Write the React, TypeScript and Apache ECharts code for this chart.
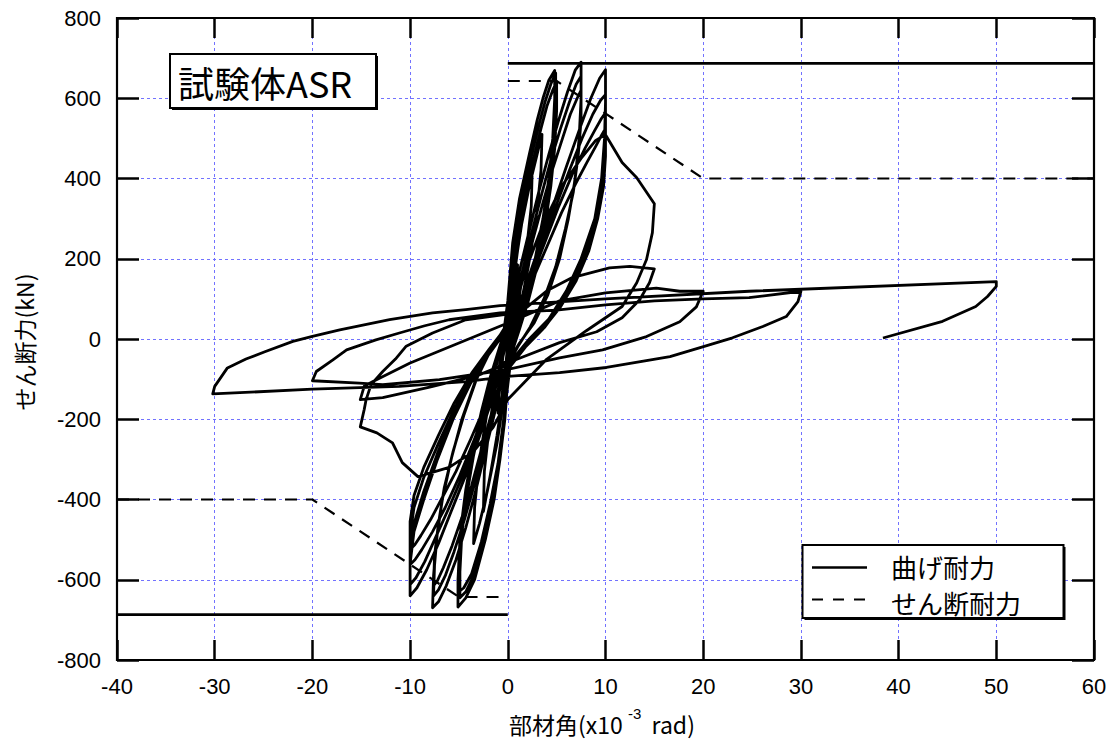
import React, { useEffect, useRef } from "react";
import * as echarts from "echarts";

// Axis ranges / ticks
const xRange = [-40, 60];
const xStep = 10;
const yRange = [-800, 800];
const yStep = 200;

// Capacity lines (kN)
const flexuralPos = [[0, 687], [60, 687]];
const flexuralNeg = [[-40, -687], [0, -687]];
const shearPos = [[0, 643], [5, 643], [20, 400], [60, 400]];
const shearNeg = [[-40, -400], [-20, -400], [-5, -643], [0, -643]];

// Hysteresis (drift angle x10^-3 rad, shear force kN)
const loopsSmall = [
  [0, 0], [0.3, 80], [0.7, 150], [1.0, 185], [0.9, 120], [0.5, 50], [0, -10],
  [-0.3, -90], [-0.7, -155], [-1.0, -185], [-0.9, -120], [-0.5, -45], [0, 10],
  [0.4, 110], [1.0, 220], [1.7, 330], [2.5, 420], [2.4, 330], [1.9, 220], [1.2, 110], [0.5, 20], [0, -50],
  [-0.5, -140], [-1.1, -240], [-1.8, -340], [-2.5, -430], [-2.4, -330], [-1.9, -220], [-1.2, -110], [-0.5, -20],
  [0.4, 120], [1.2, 260], [2.2, 380], [3.0, 460], [3.5, 510], [3.4, 420], [2.9, 300], [2.1, 180], [1.2, 70], [0.3, -30],
  [-0.3, -130], [-1.1, -260], [-2.1, -380], [-2.9, -460], [-3.5, -510], [-3.4, -420], [-2.9, -300], [-2.1, -180], [-1.2, -70], [-0.4, 20],
];

const loops5 = [
  [0, 95], [0.5, 240], [1.2, 350], [2.2, 460], [3.0, 545], [3.6, 600], [4.2, 645], [4.8, 669],
  [4.8, 600], [4.6, 500], [4.2, 400], [3.6, 300], [2.8, 200], [1.9, 110], [1.0, 40], [0.2, -20],
  [0, -100], [-0.3, -200], [-0.8, -300], [-1.4, -400], [-2.3, -500], [-3.4, -600], [-4.3, -645], [-5.1, -668],
  [-5.1, -600], [-4.9, -500], [-4.4, -400], [-3.7, -300], [-2.8, -200], [-1.8, -110], [-0.9, -40], [-0.2, 20],
  [0.1, 90], [0.7, 230], [1.4, 340], [2.4, 455], [3.2, 535], [3.8, 590], [4.4, 635], [4.9, 663],
  [4.9, 590], [4.7, 490], [4.3, 390], [3.7, 290], [2.9, 190], [2.0, 100], [1.1, 30], [0.3, -30],
  [0, -110], [-0.4, -210], [-0.9, -310], [-1.6, -410], [-2.5, -505], [-3.5, -590], [-4.3, -630], [-4.9, -645],
  [-4.9, -580], [-4.7, -485], [-4.2, -390], [-3.5, -290], [-2.6, -190], [-1.7, -100], [-0.8, -30], [-0.1, 25],
  [0.2, 85], [0.8, 220], [1.6, 330], [2.6, 445], [3.4, 525], [4.0, 580], [4.6, 620], [5.0, 640],
  [5.0, 570], [4.8, 475], [4.4, 380], [3.8, 280], [3.0, 180], [2.1, 95], [1.2, 25], [0.4, -35],
  [0, -115], [-0.5, -215], [-1.0, -310], [-1.8, -410], [-2.7, -505], [-3.7, -585], [-4.5, -620], [-5.0, -630],
  [-5.0, -565], [-4.8, -470], [-4.3, -375], [-3.6, -280], [-2.7, -180], [-1.8, -95], [-0.9, -25], [-0.2, 30],
];

const loops75 = [
  [0.3, 70], [1.2, 170], [2.2, 270], [3.2, 370], [4.2, 460], [5.2, 545], [6.1, 615], [6.9, 670], [7.5, 690],
  [7.5, 600], [7.3, 500], [6.9, 400], [6.2, 300], [5.3, 200], [4.1, 110], [2.7, 40], [1.2, -10], [0.2, -50],
  [-0.4, -80], [-1.3, -180], [-2.3, -280], [-3.3, -380], [-4.3, -470], [-5.3, -550], [-6.3, -615], [-7.1, -655], [-7.7, -670],
  [-7.6, -590], [-7.3, -500], [-6.7, -400], [-5.8, -300], [-4.7, -200], [-3.4, -110], [-2.0, -40], [-0.6, 15],
  [0.4, 60], [1.4, 160], [2.4, 260], [3.4, 355], [4.4, 445], [5.4, 525], [6.3, 590], [7.0, 635], [7.5, 655],
  [7.5, 575], [7.3, 480], [6.8, 385], [6.1, 290], [5.1, 190], [3.9, 105], [2.5, 35], [1.1, -15], [0.1, -60],
  [-0.5, -85], [-1.5, -180], [-2.5, -275], [-3.5, -370], [-4.5, -455], [-5.5, -530], [-6.4, -590], [-7.1, -625], [-7.6, -640],
  [-7.5, -565], [-7.2, -480], [-6.6, -385], [-5.7, -290], [-4.6, -195], [-3.3, -105], [-1.9, -35], [-0.5, 20],
  [0.5, 55], [1.6, 155], [2.6, 250], [3.6, 340], [4.6, 425], [5.6, 500], [6.4, 560], [7.1, 600], [7.5, 620],
  [7.5, 545], [7.2, 455], [6.7, 365], [5.9, 275], [4.9, 180], [3.7, 100], [2.3, 30], [1.0, -20], [0, -65],
  [-0.6, -90], [-1.6, -180], [-2.7, -275], [-3.7, -365], [-4.7, -445], [-5.7, -515], [-6.6, -570], [-7.2, -602], [-7.6, -615],
  [-7.5, -540], [-7.1, -460], [-6.5, -370], [-5.6, -280], [-4.5, -190], [-3.2, -100], [-1.8, -30], [-0.4, 25],
];

const loops10 = [
  [0.5, 40], [1.8, 130], [3.2, 230], [4.6, 330], [6.0, 430], [7.3, 520], [8.5, 600], [9.4, 650], [10, 671],
  [10, 590], [9.9, 500], [9.6, 400], [8.9, 300], [7.5, 200], [6.0, 120], [4.2, 50], [2.2, 0], [0.5, -50],
  [-0.5, -60], [-1.6, -150], [-3.0, -250], [-4.4, -345], [-5.8, -430], [-7.1, -510], [-8.3, -575], [-9.3, -620], [-10, -640],
  [-10, -560], [-9.6, -480], [-8.6, -400], [-7.2, -300], [-5.6, -200], [-3.8, -110], [-2.0, -40], [-0.5, 10],
  [0.6, 45], [2.0, 135], [3.4, 230], [4.9, 330], [6.3, 420], [7.6, 500], [8.7, 560], [9.5, 595], [10, 609],
  [10, 530], [9.8, 445], [9.4, 355], [8.6, 265], [7.3, 180], [5.8, 105], [4.0, 40], [2.1, -10], [0.4, -60],
  [-0.6, -65], [-1.8, -155], [-3.2, -250], [-4.7, -345], [-6.1, -425], [-7.4, -495], [-8.5, -555], [-9.4, -595], [-10, -612],
  [-10, -535], [-9.6, -460], [-8.6, -380], [-7.2, -285], [-5.6, -190], [-3.8, -105], [-2.0, -35], [-0.4, 15],
  [0.7, 50], [2.2, 140], [3.7, 235], [5.2, 330], [6.6, 410], [7.9, 475], [8.9, 520], [9.6, 550], [10, 564],
  [10, 490], [9.8, 410], [9.3, 325], [8.4, 240], [7.1, 160], [5.6, 90], [3.8, 30], [1.9, -15], [0.3, -65],
  [-0.7, -70], [-2.0, -160], [-3.5, -255], [-5.0, -345], [-6.4, -420], [-7.7, -480], [-8.8, -525], [-9.5, -550], [-10, -562],
  [-10, -490], [-9.6, -420], [-8.6, -345], [-7.1, -260], [-5.5, -175], [-3.7, -95], [-1.9, -30], [-0.3, 20],
  [0.8, 55], [2.4, 140], [4.0, 230], [5.5, 315], [6.9, 385], [8.1, 440], [9.0, 480], [9.6, 508], [10, 525],
  [10, 455], [9.8, 380], [9.2, 300], [8.3, 220], [7.0, 145], [5.4, 80], [3.6, 25], [1.8, -20], [0.2, -70],
  [-0.8, -70], [-2.2, -160], [-3.8, -250], [-5.3, -330], [-6.7, -395], [-7.9, -450], [-8.9, -490], [-9.5, -512], [-10, -525],
  [-10, -455], [-9.6, -390], [-8.6, -320], [-7.1, -240], [-5.5, -160], [-3.7, -85], [-1.9, -25], [-0.3, 25],
];

const loops15 = [
  [0.5, 60], [1.8, 170], [3.5, 280], [5.5, 380], [7.5, 450], [9.0, 495], [10, 509], [11.7, 440], [13.2, 402], [15, 337],
  [14.8, 265], [14.2, 198], [13.2, 140], [11.7, 81], [8, 20], [4, -50], [0, -151],
  [-1.5, -220], [-3.5, -280], [-6, -320], [-9.2, -343], [-10.8, -308], [-11.8, -259], [-13.4, -234], [-15.1, -219],
  [-14.7, -176], [-14.5, -151], [-14, -114], [-12.8, -81], [-11.5, -50], [-10.4, -18], [-7.7, 15], [-4.3, 48], [0, 62],
  [2, 80], [4, 120], [6.6, 153], [10.4, 177], [12.5, 181], [15, 175],
  [14.5, 140], [13.5, 98], [11.7, 53], [9.1, 18], [5.3, -9], [1, -50],
  [-3, -90], [-8, -120], [-12.8, -146], [-15.1, -151],
  [-14.7, -118], [-13.8, -106], [-10, -60], [-5, -10], [0, 40],
];

const loops20 = [
  [5.3, 95], [10, 115], [15.2, 127], [17.6, 119], [20, 119],
  [19.3, 80], [17.6, 43], [14.2, 6], [9.7, -27], [5.3, -47], [0, -76], [-7, -101],
  [-12.8, -114], [-15.2, -110], [-20, -104],
  [-19.6, -81], [-17.9, -52], [-16.5, -27], [-13.5, -2], [-11.1, 15], [-8.5, 33], [-6, 48], [-0.8, 65],
];

const loops30 = [
  [5, 72], [10, 85], [15, 95], [20, 100], [24.7, 103], [30, 119],
  [29.7, 93], [28.5, 56], [26.1, 31], [23, 3], [19.6, -22], [16.6, -44], [10.1, -71], [5.3, -84],
  [0, -93], [-4.3, -106], [-11.1, -118], [-20, -125], [-30.2, -137],
  [-30, -118], [-28.7, -72], [-26.8, -50], [-24.8, -31], [-22, -6], [-20, 6.5], [-17.2, 23],
  [-12.1, 48], [-7.7, 65], [-4.3, 73], [-0.8, 83],
];

const loops50 = [
  [10, 100], [24.7, 119], [50, 143],
  [50, 131], [49.1, 106], [47.9, 81], [44.5, 44], [38.4, 2.5],
];

const hysteresis = [
  ...loopsSmall, ...loops5, ...loops75, ...loops10, ...loops15, ...loops20, ...loops30, ...loops50,
];

const legendNames = ["曲げ耐力", "せん断耐力"];
const titleText = "試験体ASR";
const yName = "せん断力(kN)";

const FONT_NUM = '"Liberation Sans", Arial, sans-serif';
const FONT_JP = '"Noto Sans CJK JP", "Liberation Sans", sans-serif';
const GRID_COLOR = "#7272ff";

export default function App() {
  const ref = useRef<HTMLDivElement>(null);

  useEffect(() => {
    if (!ref.current) return;
    const chart = echarts.init(ref.current, null, { renderer: "svg" });
    const tickStyle = { color: "#000", width: 2.5 };
    const splitStyle = { color: GRID_COLOR, type: [3, 3], width: 1 };
    const option: any = {
      animation: false,
      backgroundColor: "#fff",
      grid: { left: 117, top: 18, width: 977, height: 642, show: false },
      xAxis: [
        {
          type: "value", min: xRange[0], max: xRange[1], interval: xStep, position: "bottom",
          axisLine: { show: false, onZero: false },
          axisTick: { show: true, inside: true, length: 20, lineStyle: tickStyle },
          axisLabel: { margin: 15, color: "#000", fontSize: 22, fontFamily: FONT_NUM },
          splitLine: { show: true, lineStyle: splitStyle },
        },
        {
          type: "value", min: xRange[0], max: xRange[1], interval: xStep, position: "top",
          axisLine: { show: false, onZero: false },
          axisTick: { show: true, inside: true, length: 20, lineStyle: tickStyle },
          axisLabel: { show: false },
          splitLine: { show: false },
        },
      ],
      yAxis: [
        {
          type: "value", min: yRange[0], max: yRange[1], interval: yStep, position: "left",
          axisLine: { show: false, onZero: false },
          axisTick: { show: true, inside: true, length: 22, lineStyle: tickStyle },
          axisLabel: { margin: 16, color: "#000", fontSize: 22, fontFamily: FONT_NUM },
          splitLine: { show: true, lineStyle: splitStyle },
        },
        {
          type: "value", min: yRange[0], max: yRange[1], interval: yStep, position: "right",
          axisLine: { show: false, onZero: false },
          axisTick: { show: true, inside: true, length: 22, lineStyle: tickStyle },
          axisLabel: { show: false },
          splitLine: { show: false },
        },
      ],
      series: [
        {
          type: "line", name: legendNames[1], data: shearPos, showSymbol: false,
          lineStyle: { color: "#000", width: 2.2, type: [12, 9] }, z: 3,
        },
        {
          type: "line", name: legendNames[1], data: shearNeg, showSymbol: false,
          lineStyle: { color: "#000", width: 2.2, type: [12, 9] }, z: 3,
        },
        {
          type: "line", name: legendNames[0], data: flexuralPos, showSymbol: false,
          lineStyle: { color: "#000", width: 2.6 }, z: 3,
        },
        {
          type: "line", name: legendNames[0], data: flexuralNeg, showSymbol: false,
          lineStyle: { color: "#000", width: 2.6 }, z: 3,
        },
        {
          type: "line", name: "hysteresis", data: hysteresis, showSymbol: false,
          lineStyle: { color: "#000", width: 2.8, join: "round" }, z: 4,
        },
      ],
      graphic: [
        {
          type: "rect", z: 100, silent: true,
          shape: { x: 117, y: 18, width: 977, height: 642 },
          style: { fill: "none", stroke: "#000", lineWidth: 2.2 },
        },
        // title box
        {
          type: "rect", z: 100, shape: { x: 172, y: 56, width: 206, height: 54 },
          style: { fill: "#000" },
        },
        {
          type: "rect", z: 101, shape: { x: 170, y: 54, width: 206, height: 54 },
          style: { fill: "#fff", stroke: "#000", lineWidth: 2 },
        },
        {
          type: "text", z: 102, x: 178, y: 82,
          style: { text: titleText, font: `36px ${FONT_JP}`, fill: "#000", verticalAlign: "middle", align: "left", lineHeight: 40 },
        },
        // legend box
        {
          type: "rect", z: 100, shape: { x: 804.5, y: 547, width: 261, height: 73 },
          style: { fill: "#000" },
        },
        {
          type: "rect", z: 101, shape: { x: 802.5, y: 545, width: 261, height: 73 },
          style: { fill: "#fff", stroke: "#000", lineWidth: 2 },
        },
        {
          type: "line", z: 102, shape: { x1: 812, y1: 567.5, x2: 867, y2: 567.5 },
          style: { stroke: "#000", lineWidth: 2.6 },
        },
        {
          type: "line", z: 102, shape: { x1: 812, y1: 599.5, x2: 867, y2: 599.5 },
          style: { stroke: "#000", lineWidth: 2.2, lineDash: [11, 10] },
        },
        {
          type: "text", z: 102, x: 891, y: 566,
          style: { text: legendNames[0], font: `26px ${FONT_JP}`, fill: "#000", verticalAlign: "middle", align: "left", lineHeight: 28 },
        },
        {
          type: "text", z: 102, x: 891, y: 602,
          style: { text: legendNames[1], font: `26px ${FONT_JP}`, fill: "#000", verticalAlign: "middle", align: "left", lineHeight: 28 },
        },
        // axis names
        {
          type: "text", z: 102, x: 602, y: 724,
          style: {
            text: "部材角(x10 {sup|-3}  rad)",
            font: `23px ${FONT_JP}`, fill: "#000", align: "center", verticalAlign: "middle",
            lineHeight: 36,
            rich: {
              sup: { fontSize: 15, fontFamily: FONT_NUM, verticalAlign: "top", lineHeight: 36, padding: [0, 0, 16, 0] },
            },
          },
        },
        {
          type: "text", z: 102, x: 24, y: 342, rotation: Math.PI / 2,
          style: { text: yName, font: `23px ${FONT_JP}`, fill: "#000", align: "center", verticalAlign: "middle" },
        },
      ],
    };
    chart.setOption(option);
    return () => chart.dispose();
  }, []);

  return (
    <div
      ref={ref}
      style={{ position: "absolute", left: 0, top: 0, width: 1114, height: 744, background: "#fff" }}
    />
  );
}
